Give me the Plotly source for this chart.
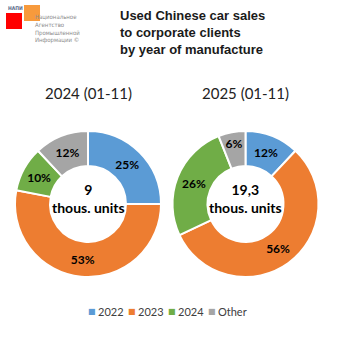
import plotly.graph_objects as go

categories = ["2022", "2023", "2024", "Other"]
share_2024 = [25, 53, 10, 12]
share_2025 = [12, 56, 26, 6]
totals = ["9", "19,3"]
panel_titles = ["2024 (01-11)", "2025 (01-11)"]
colors = ["#5B9BD5", "#ED7D31", "#70AD47", "#A5A5A5"]

FONT = "Lato"
W = H = 338


def px_x(x):
    return x / W


def px_y(y):
    return 1 - y / H


fig = go.Figure()
domains = [[px_x(15), px_x(161)], [px_x(172.5), px_x(318.5)]]
ydom = [px_y(277), px_y(131)]
for vals, dom in zip([share_2024, share_2025], domains):
    fig.add_trace(go.Pie(
        labels=categories, values=vals, hole=0.52, sort=False,
        direction="clockwise", rotation=0,
        marker=dict(colors=colors, line=dict(color="white", width=2)),
        texttemplate="<b>%{value}%</b>", textposition="inside",
        insidetextorientation="horizontal",
        textfont=dict(family=FONT, size=12, color="black"),
        domain=dict(x=dom, y=ydom), showlegend=False,
        hoverinfo="label+percent",
    ))

annotations = []
centers = [88, 245.5]
for cx, t, tot in zip(centers, panel_titles, totals):
    annotations.append(dict(x=px_x(cx), y=px_y(93), xref="paper", yref="paper",
                            xanchor="center", yanchor="middle",
                            text=t, showarrow=False,
                            font=dict(family=FONT, size=15, color="#222222")))
    annotations.append(dict(x=px_x(cx), y=px_y(198), xref="paper", yref="paper",
                            xanchor="center", yanchor="middle",
                            text="<b>" + tot + "<br>thous. units</b>", showarrow=False,
                            font=dict(family=FONT, size=14, color="black")))

annotations.append(dict(x=px_x(118), y=px_y(32), xref="paper", yref="paper",
                        xanchor="left", yanchor="middle",
                        text="<b>Used Chinese car sales<br>to corporate clients<br>by year of manufacture</b>",
                        showarrow=False, align="left",
                        font=dict(family="Liberation Sans", size=13, color="#1a1a1a")))
annotations.append(dict(x=px_x(6), y=px_y(8), xref="paper", yref="paper",
                        xanchor="left", yanchor="middle",
                        text="<b>НАПИ</b>", showarrow=False,
                        font=dict(family="DejaVu Sans Condensed", size=5, color="#5a6a8a")))
annotations.append(dict(x=px_x(33), y=px_y(29), xref="paper", yref="paper",
                        text="Национальное<br>Агентство<br>Промышленной<br>Информации ©",
                        showarrow=False, xanchor="left", yanchor="middle", align="left",
                        font=dict(family="DejaVu Sans Condensed", size=6, color="#8c8c8c")))

# legend built from categories and colours
for i, (cat, col) in enumerate(zip(categories, colors)):
    x0 = 92 + 40 * i
    annotations.append(dict(x=px_x(x0), y=px_y(311), xref="paper", yref="paper",
                            xanchor="center", yanchor="middle", text="■", showarrow=False,
                            font=dict(family="DejaVu Sans", size=8, color=col)))
    annotations.append(dict(x=px_x(x0 + 4), y=px_y(311), xref="paper", yref="paper",
                            xanchor="left", yanchor="middle", text=cat, showarrow=False,
                            font=dict(family=FONT, size=11, color="#404040")))

shapes = [
    dict(type="rect", xref="paper", yref="paper", x0=px_x(6), x1=px_x(22),
         y0=px_y(29), y1=px_y(13), fillcolor="#FF0000", line=dict(width=0)),
    dict(type="rect", xref="paper", yref="paper", x0=px_x(24), x1=px_x(40),
         y0=px_y(21), y1=px_y(5), fillcolor="#F79A3C", line=dict(width=0), layer="below"),
]

fig.update_layout(
    width=W, height=H, margin=dict(l=0, r=0, t=0, b=0),
    paper_bgcolor="white", plot_bgcolor="white",
    annotations=annotations, shapes=shapes, showlegend=False,
)
fig.write_html("out.html")
